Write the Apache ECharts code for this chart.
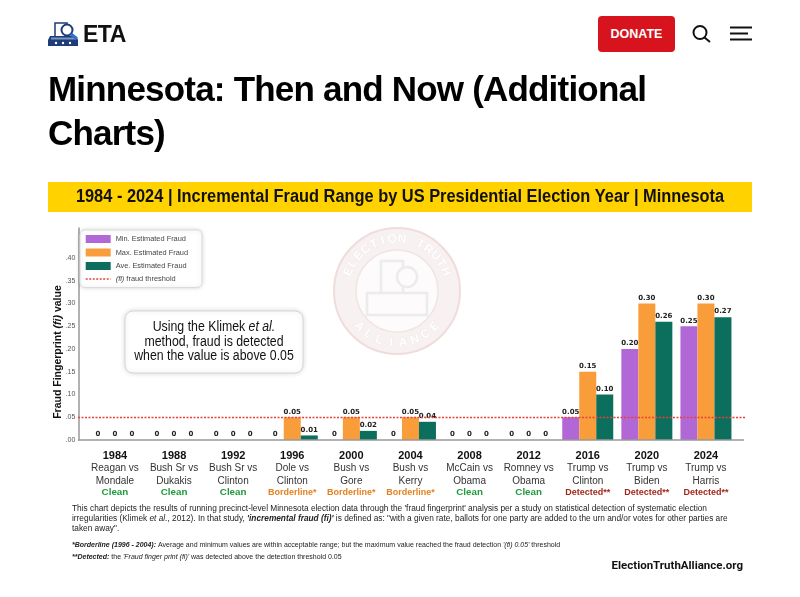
<!DOCTYPE html>
<html>
<head>
<meta charset="utf-8">
<script src="https://cdn.jsdelivr.net/npm/echarts@6/dist/echarts.min.js"></script>
<style>
  body { margin: 0; background: #fff; font-family: 'Liberation Sans', Arial, sans-serif; }
  #chart { position: absolute; left: 0; top: 0; width: 800px; height: 597px; }
  .abs { position: absolute; }
  #eta { left: 83px; top: 23px; font-weight: bold; font-size: 23px; line-height: 23px; letter-spacing: -0.5px; color: #111; }
  #donate { left: 598px; top: 16px; width: 77px; height: 36px; line-height: 36px; background: #d7141d; border-radius: 4px;
    color: #fff; font-weight: bold; font-size: 12.5px; text-align: center; }
  h1 { position: absolute; left: 48px; top: 67px; margin: 0; font-size: 35px; line-height: 44px; letter-spacing: -0.8px; color: #000; }
</style>
</head>
<body>
<div id="chart"></div>

<svg class="abs" style="left:47px;top:22px" width="33" height="25" viewBox="0 0 33 25">
  <rect x="8" y="1" width="12" height="14" fill="#fff" stroke="#1d3c78" stroke-width="1.5"/>
  <polygon points="3,14 29,14 31,18 31,24 1,24 1,18" fill="#1d3c78"/>
  <rect x="4" y="15.5" width="24" height="2" fill="#7d95c2"/>
  <circle cx="9" cy="21" r="1.2" fill="#fff"/><circle cx="16" cy="21" r="1.2" fill="#fff"/><circle cx="23" cy="21" r="1.2" fill="#fff"/>
  <circle cx="20" cy="8" r="5.5" fill="#fff" stroke="#1d3c78" stroke-width="2"/>
  <line x1="24" y1="12" x2="30" y2="17" stroke="#2f6fd6" stroke-width="3"/>
</svg>
<div id="eta" class="abs">ETA</div>
<div id="donate" class="abs">DONATE</div>
<svg class="abs" style="left:691px;top:25px" width="22" height="18" viewBox="0 0 22 18">
  <circle cx="9" cy="7.5" r="6.5" fill="none" stroke="#111" stroke-width="2"/>
  <line x1="13.5" y1="12.5" x2="19" y2="17" stroke="#111" stroke-width="2"/>
</svg>
<svg class="abs" style="left:730px;top:26px" width="23" height="16" viewBox="0 0 23 16">
  <line x1="0" y1="1.5" x2="22" y2="1.5" stroke="#111" stroke-width="2"/>
  <line x1="0" y1="7.5" x2="18" y2="7.5" stroke="#111" stroke-width="2"/>
  <line x1="0" y1="13.5" x2="22" y2="13.5" stroke="#111" stroke-width="2"/>
</svg>
<h1>Minnesota: Then and Now (Additional<br>Charts)</h1>

<script>
  const years = ['1984', '1988', '1992', '1996', '2000', '2004', '2008', '2012', '2016', '2020', '2024'];
  const matchupTop = ['Reagan vs', 'Bush Sr vs', 'Bush Sr vs', 'Dole vs', 'Bush vs', 'Bush vs', 'McCain vs', 'Romney vs', 'Trump vs', 'Trump vs', 'Trump vs'];
  const matchupBottom = ['Mondale', 'Dukakis', 'Clinton', 'Clinton', 'Gore', 'Kerry', 'Obama', 'Obama', 'Clinton', 'Biden', 'Harris'];
  const verdicts = ['Clean', 'Clean', 'Clean', 'Borderline*', 'Borderline*', 'Borderline*', 'Clean', 'Clean', 'Detected**', 'Detected**', 'Detected**'];

  const minFraud = [0, 0, 0, 0, 0, 0, 0, 0, 0.05, 0.20, 0.25];
  const maxFraud = [0, 0, 0, 0.05, 0.05, 0.05, 0, 0, 0.15, 0.30, 0.30];
  const aveFraud = [0, 0, 0, 0.01, 0.02, 0.04, 0, 0, 0.10, 0.26, 0.27];
  const threshold = 0.05;

  const FONT = '"Liberation Sans", Arial, sans-serif';
  const thresholdName = '(fi) fraud threshold';
  const redLine = '#e8403a';
  const axisGrey = '#999';

  // the plot frame runs a little wider than the bar slots
  const frameLeft = 78;
  const frameRight = 744;

  const verdictClass = (v) => {
    if (v.indexOf('Clean') === 0) return 'c';
    if (v.indexOf('Border') === 0) return 'b';
    return 'd';
  };

  const barLabel = {
    show: true,
    position: 'top',
    distance: 2,
    fontSize: 7,
    fontWeight: 'bold',
    color: '#222',
    fontFamily: 'DejaVu Sans',
    formatter: (p) => (p.value === 0 ? '0' : p.value.toFixed(2)),
  };

  // watermark letters on an arc
  const arcLetters = (text, cx, cy, r, from, to, bottom) => {
    const out = [];
    const n = text.length;
    for (let i = 0; i < n; i++) {
      const a = from + (to - from) * (i / (n - 1));
      out.push({
        type: 'text',
        x: cx + r * Math.cos(a),
        y: cy + r * Math.sin(a),
        rotation: bottom ? Math.PI / 2 - a : -(a + Math.PI / 2),
        silent: true,
        z: -1,
        style: {
          text: text[i], fill: '#ffffff', stroke: '#efe4e4', lineWidth: 0.6, font: 'bold 12px ' + FONT,
          textAlign: 'center', textVerticalAlign: 'middle',
        },
      });
    }
    return out;
  };

  const wmX = 397, wmY = 291;

  const footRich = {
    it: { fontStyle: 'italic', fontSize: 8.3, fontFamily: FONT, fill: '#222' },
    bi: { fontStyle: 'italic', fontWeight: 'bold', fontSize: 8.3, fontFamily: FONT, fill: '#222' },
  };
  const smallRich = {
    it: { fontStyle: 'italic', fontSize: 7, fontFamily: FONT, fill: '#222' },
    bi: { fontStyle: 'italic', fontWeight: 'bold', fontSize: 7, fontFamily: FONT, fill: '#222' },
  };

  const chart = echarts.init(document.getElementById('chart'));

  const option = {
    backgroundColor: '#fff',
    animation: false,
    grid: { left: 85.4, right: 64.5, top: 228, bottom: 157 },
    legend: {
      orient: 'vertical',
      left: 80,
      top: 230,
      padding: [5, 14, 5, 5],
      itemWidth: 25,
      itemHeight: 8,
      itemGap: 5.5,
      backgroundColor: '#fff',
      borderColor: '#dcdcdc',
      borderWidth: 1,
      borderRadius: 5,
      shadowBlur: 4,
      shadowColor: 'rgba(0,0,0,0.15)',
      data: [
        { name: 'Min. Estimated Fraud', icon: 'rect' },
        { name: 'Max. Estimated Fraud', icon: 'rect' },
        { name: 'Ave. Estimated Fraud', icon: 'rect' },
        {
          name: thresholdName,
          itemStyle: { opacity: 0 },
          lineStyle: { color: redLine, type: [2, 1.5], width: 1.4 },
        },
      ],
      formatter: (name) => (name === thresholdName ? '{i|(fi)} fraud threshold' : name),
      textStyle: {
        fontSize: 7.4, color: '#444', fontFamily: FONT,
        rich: { i: { fontStyle: 'italic', fontSize: 7.4, color: '#444', fontFamily: FONT } },
      },
    },
    xAxis: {
      type: 'category',
      data: years,
      axisLine: { show: false },
      axisTick: { show: false },
      axisLabel: {
        interval: 0,
        margin: 10,
        formatter: (val, idx) =>
          `{y|${years[idx]}}\n{m|${matchupTop[idx]}}\n{m|${matchupBottom[idx]}}\n{${verdictClass(verdicts[idx])}|${verdicts[idx]}}`,
        rich: {
          y: { fontSize: 11, fontWeight: 'bold', color: '#111', lineHeight: 12.3, fontFamily: FONT },
          m: { fontSize: 10, color: '#333', lineHeight: 12.3, fontFamily: FONT },
          c: { fontSize: 9.8, fontWeight: 'bold', color: '#1f9a3c', lineHeight: 11.5, fontFamily: FONT },
          b: { fontSize: 9, fontWeight: 'bold', color: '#e5801f', lineHeight: 11.5, fontFamily: FONT },
          d: { fontSize: 9, fontWeight: 'bold', color: '#a3281c', lineHeight: 11.5, fontFamily: FONT },
        },
      },
    },
    yAxis: {
      type: 'value',
      min: 0,
      max: 0.466,
      interval: 0.05,
      offset: 7,
      axisLine: { show: true, lineStyle: { color: axisGrey, width: 1.5 } },
      axisTick: { show: false },
      splitLine: { show: false },
      axisLabel: {
        fontSize: 7,
        color: '#555',
        margin: 3,
        fontFamily: FONT,
        formatter: (v) => (v > 0.41 ? '' : v.toFixed(2).replace(/^0/, '')),
      },
    },
    series: [
      {
        name: 'Min. Estimated Fraud', type: 'bar', data: minFraud,
        barWidth: 17, barGap: '0%', itemStyle: { color: '#b267d6' }, label: barLabel, z: 3,
      },
      {
        name: 'Max. Estimated Fraud', type: 'bar', data: maxFraud,
        barWidth: 17, barGap: '0%', itemStyle: { color: '#f99d3b' }, label: barLabel, z: 3,
      },
      {
        name: 'Ave. Estimated Fraud', type: 'bar', data: aveFraud,
        barWidth: 17, barGap: '0%', itemStyle: { color: '#0c6e5c' }, label: barLabel, z: 3,
      },
      {
        name: thresholdName, type: 'line', data: [], symbol: 'none',
        itemStyle: { color: redLine },
        lineStyle: { color: redLine, type: [2, 1.5], width: 1.4 },
        z: 4,
      },
    ],
    graphic: [
      // banner
      {
        type: 'rect', shape: { x: 48, y: 182, width: 704, height: 30 },
        style: { fill: '#ffd200' }, silent: true,
      },
      {
        type: 'text', x: 400, y: 197, scaleX: 0.91, silent: true,
        style: {
          text: '1984 - 2024 | Incremental Fraud Range by US Presidential Election Year | Minnesota',
          font: 'bold 18px ' + FONT, fill: '#111', textAlign: 'center', textVerticalAlign: 'middle',
        },
      },
      // y axis title
      {
        type: 'text', x: 58, y: 352, rotation: Math.PI / 2, silent: true,
        style: {
          text: 'Fraud Fingerprint {i|(fi)} value',
          font: 'bold 10.5px ' + FONT, fill: '#111', textAlign: 'center', textVerticalAlign: 'middle',
          rich: { i: { fontStyle: 'italic', fontWeight: 'bold', fontSize: 10.5, fontFamily: FONT, fill: '#111' } },
        },
      },
      // watermark
      {
        type: 'circle', shape: { cx: wmX, cy: wmY, r: 63 }, silent: true, z: -2,
        style: { fill: '#f8f1f1', stroke: '#f1dcdc', lineWidth: 2 },
      },
      {
        type: 'circle', shape: { cx: wmX, cy: wmY, r: 41 }, silent: true, z: -2,
        style: { fill: '#fdfbfb', stroke: '#f1e4e4', lineWidth: 1.5 },
      },
      {
        type: 'rect', shape: { x: wmX - 16, y: wmY - 30, width: 22, height: 32 }, silent: true, z: -1,
        style: { fill: '#fdfbfb', stroke: '#ececec', lineWidth: 2.5 },
      },
      {
        type: 'polygon', shape: { points: [[wmX - 30, wmY + 2], [wmX + 30, wmY + 2], [wmX + 30, wmY + 24], [wmX - 30, wmY + 24]] },
        silent: true, z: -1, style: { fill: '#fdfbfb', stroke: '#ececec', lineWidth: 2.5 },
      },
      {
        type: 'circle', shape: { cx: wmX + 10, cy: wmY - 14, r: 10 }, silent: true, z: -1,
        style: { fill: '#fdfbfb', stroke: '#ececec', lineWidth: 2.5 },
      },
      ...arcLetters('ELECTION TRUTH', wmX, wmY, 52, -Math.PI * 0.88, -Math.PI * 0.12, false),
      ...arcLetters('ALLIANCE', wmX, wmY, 52, Math.PI * 0.76, Math.PI * 0.24, true),
      // annotation box
      {
        type: 'rect', shape: { x: 125, y: 311, width: 178, height: 62, r: 8 }, silent: true,
        style: { fill: '#fff', stroke: '#d6d6d6', lineWidth: 1, shadowBlur: 5, shadowColor: 'rgba(0,0,0,0.15)' },
      },
      {
        type: 'text', x: 214, y: 342, scaleX: 0.88, silent: true,
        style: {
          text: 'Using the Klimek {it|et al.}\nmethod, fraud is detected\nwhen the value is above 0.05',
          font: '14px ' + FONT, fill: '#111', textAlign: 'center', textVerticalAlign: 'middle', lineHeight: 14.5,
          rich: { it: { fontStyle: 'italic', fontSize: 14, fontFamily: FONT, fill: '#111', lineHeight: 14.5 } },
        },
      },
      // footnotes
      {
        type: 'text', x: 72, y: 509, silent: true,
        style: {
          text: "This chart depicts the results of running precinct-level Minnesota election data through the 'fraud fingerprint' analysis per a study on statistical detection of systematic election",
          font: '8.3px ' + FONT, fill: '#222', textVerticalAlign: 'middle',
        },
      },
      {
        type: 'text', x: 72, y: 519, silent: true,
        style: {
          text: "irregularities (Klimek {it|et al.}, 2012). In that study, {bi|'incremental fraud (fi)'} is defined as: \"with a given rate, ballots for one party are added to the urn and/or votes for other parties are",
          font: '8.3px ' + FONT, fill: '#222', textVerticalAlign: 'middle', rich: footRich,
        },
      },
      {
        type: 'text', x: 72, y: 528.5, silent: true,
        style: { text: 'taken away".', font: '8.3px ' + FONT, fill: '#222', textVerticalAlign: 'middle' },
      },
      {
        type: 'text', x: 72, y: 545.5, silent: true,
        style: {
          text: "{bi|*Borderline (1996 - 2004):} Average and minimum values are within acceptable range; but the maximum value reached the fraud detection {it|'(fi) 0.05'} threshold",
          font: '7px ' + FONT, fill: '#222', textVerticalAlign: 'middle', rich: smallRich,
        },
      },
      {
        type: 'text', x: 72, y: 557, silent: true,
        style: {
          text: "{bi|**Detected:} the {it|'Fraud finger print (fi)'} was detected above the detection threshold 0.05",
          font: '7px ' + FONT, fill: '#222', textVerticalAlign: 'middle', rich: smallRich,
        },
      },
      {
        type: 'text', x: 743, y: 566, silent: true,
        style: {
          text: 'ElectionTruthAlliance.org', font: 'bold 11.5px Roboto', fill: '#111',
          textAlign: 'right', textVerticalAlign: 'middle',
        },
      },
    ],
  };

  chart.setOption(option);

  // baseline and threshold span the full frame; their heights come from the y scale
  const baseY = chart.convertToPixel({ yAxisIndex: 0 }, 0);
  const threshY = chart.convertToPixel({ yAxisIndex: 0 }, threshold);
  chart.setOption({
    series: [
      {}, {}, {},
      {
        markLine: {
          silent: true, symbol: 'none', label: { show: false },
          lineStyle: { color: redLine, type: [2, 1.5], width: 1.4 },
          data: [[{ x: frameLeft, y: threshY }, { x: frameRight + 1, y: threshY }]],
        },
      },
    ],
    graphic: option.graphic.concat([
      {
        type: 'line', silent: true, z: 5,
        shape: { x1: frameLeft, y1: baseY, x2: frameRight, y2: baseY },
        style: { stroke: axisGrey, lineWidth: 1.5 },
      },
    ]),
  });

  window.addEventListener('resize', function() {
    chart.resize();
  });
</script>
</body>
</html>
